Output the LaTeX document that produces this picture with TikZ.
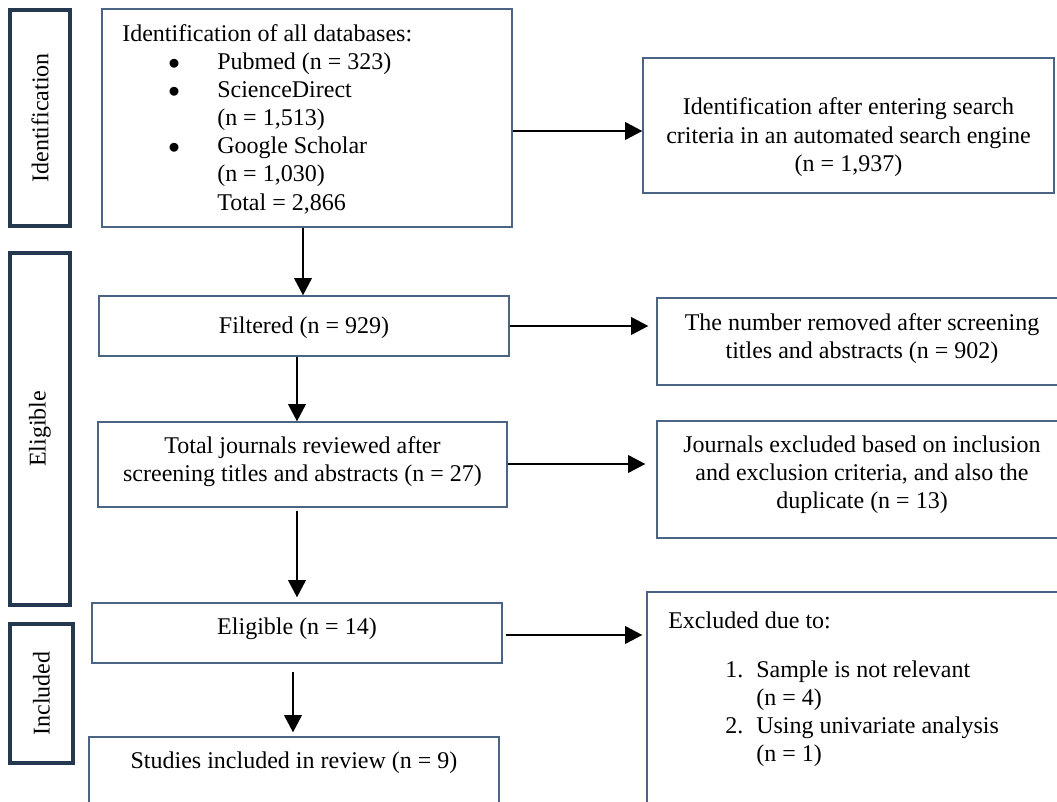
\documentclass[tikz,border=0pt]{standalone}
\usepackage{fontspec}
\setmainfont{Liberation Serif}
\usetikzlibrary{arrows.meta}
\definecolor{navy}{HTML}{24394F}
\definecolor{slate}{HTML}{4C6483}
\newcommand{\fstrut}{\rule{0pt}{14pt}}
\newcommand{\bul}{\makebox[35.25pt][l]{\hspace*{-1.5pt}$\bullet$}}
\begin{document}
\begin{tikzpicture}[x=0.75pt,y=-0.75pt,
  box/.style={draw=slate,line width=0.9pt,rectangle,inner sep=0pt},
  side/.style={draw=navy,line width=2.3pt,rectangle,inner sep=0pt,font=\fontsize{18pt}{21.1pt}\selectfont},
  txt/.style={inner sep=0pt,font=\fontsize{18pt}{21.1pt}\selectfont,align=center,anchor=north},
  ltxt/.style={inner sep=0pt,font=\fontsize{18pt}{21.1pt}\selectfont,align=left,anchor=north west},
  arr/.style={line width=2.2pt,-{Triangle[length=13pt,width=13pt]}}]
\useasboundingbox (0,0) rectangle (1057,802);
% side labels
\node[side,rotate=90,minimum width=162pt,minimum height=45pt] (sid) at (40,118) {Identification};
\node[side,rotate=90,minimum width=264pt,minimum height=45pt] (sel) at (40,429) {Eligible};
\node[side,rotate=90,minimum width=104.25pt,minimum height=47.25pt] (sin) at (41.5,693.5) {Included};
% boxes
\node[box,minimum width=307.5pt,minimum height=163.5pt] (b1) at (307,118) {};
\node[box,minimum width=308.25pt,minimum height=101.25pt] (r1) at (848.5,125.5) {};
\node[box,minimum width=307.5pt,minimum height=45pt] (filt) at (304,326) {};
\node[box,minimum width=307.5pt,minimum height=65.25pt] (r2) at (862,341.5) {};
\node[box,minimum width=306.75pt,minimum height=63.75pt] (tot) at (302.5,464.5) {};
\node[box,minimum width=307.5pt,minimum height=87.75pt] (r3) at (862,479.5) {};
\node[box,minimum width=307.5pt,minimum height=45pt] (elig) at (297,633) {};
\node[box,minimum width=307.5pt,minimum height=69.75pt] (stud) at (294,783.5) {};
\node[box,minimum width=321pt,minimum height=178.5pt] (excl) at (861,711) {};
% texts
\node[ltxt] (t1) at (122,22.3) {\fstrut Identification of all databases:\\
\hspace*{36pt}\bul Pubmed (n = 323)\\
\hspace*{36pt}\bul ScienceDirect\\
\hspace*{71.25pt}(n = 1,513)\\
\hspace*{36pt}\bul Google Scholar\\
\hspace*{71.25pt}(n = 1,030)\\
\hspace*{71.25pt}Total = 2,866};
\node[txt] (tr1) at (848.5,96) {\fstrut Identification after entering search\\criteria in an automated search engine\\(n = 1,937)};
\node[txt] (tf) at (304,314.5) {\fstrut Filtered (n = 929)};
\node[txt] (tr2) at (862,311.3) {\fstrut The number removed after screening\\titles and abstracts (n = 902)};
\node[txt] (tt) at (302.5,434.8) {\fstrut Total journals reviewed after\\screening titles and abstracts (n = 27)};
\node[txt] (tr3) at (862,433.3) {\fstrut Journals excluded based on inclusion\\and exclusion criteria, and also the\\duplicate (n = 13)};
\node[txt] (te) at (297,615.3) {\fstrut Eligible (n = 14)};
\node[txt] (ts) at (294,749.3) {\fstrut Studies included in review (n = 9)};
\node[ltxt] (tx) at (668,609.3) {\fstrut Excluded due to:\\[15.6pt]
\hspace*{42.75pt}\makebox[23.25pt][l]{1.}Sample is not relevant\\
\hspace*{66pt}(n = 4)\\
\hspace*{42.75pt}\makebox[23.25pt][l]{2.}Using univariate analysis\\
\hspace*{66pt}(n = 1)};
% connector guides
\coordinate (ya) at (0,131);
\coordinate (yb) at (0,326);
\coordinate (yc) at (0,464);
\coordinate (yd) at (0,635);
\coordinate (xa) at (303,0);
\coordinate (xb) at (297,0);
\coordinate (xc) at (293,0);
% arrows
\draw[arr] (b1.east |- ya) -- (r1.west |- ya);
\draw[arr] (b1.south -| xa) -- (filt.north -| xa);
\draw[arr,shorten >=6pt] (filt.east |- yb) -- (r2.west |- yb);
\draw[arr] (filt.south -| xb) -- (tot.north -| xb);
\draw[arr,shorten >=8.25pt] (tot.east |- yc) -- (r3.west |- yc);
\draw[arr,shorten <=2.25pt,shorten >=3.75pt] (tot.south -| xb) -- (elig.north -| xb);
\draw[arr,shorten <=2.25pt,shorten >=3pt] (elig.east |- yd) -- (excl.west |- yd);
\draw[arr,shorten <=6pt,shorten >=3pt] (elig.south -| xc) -- (stud.north -| xc);
\end{tikzpicture}
\end{document}
